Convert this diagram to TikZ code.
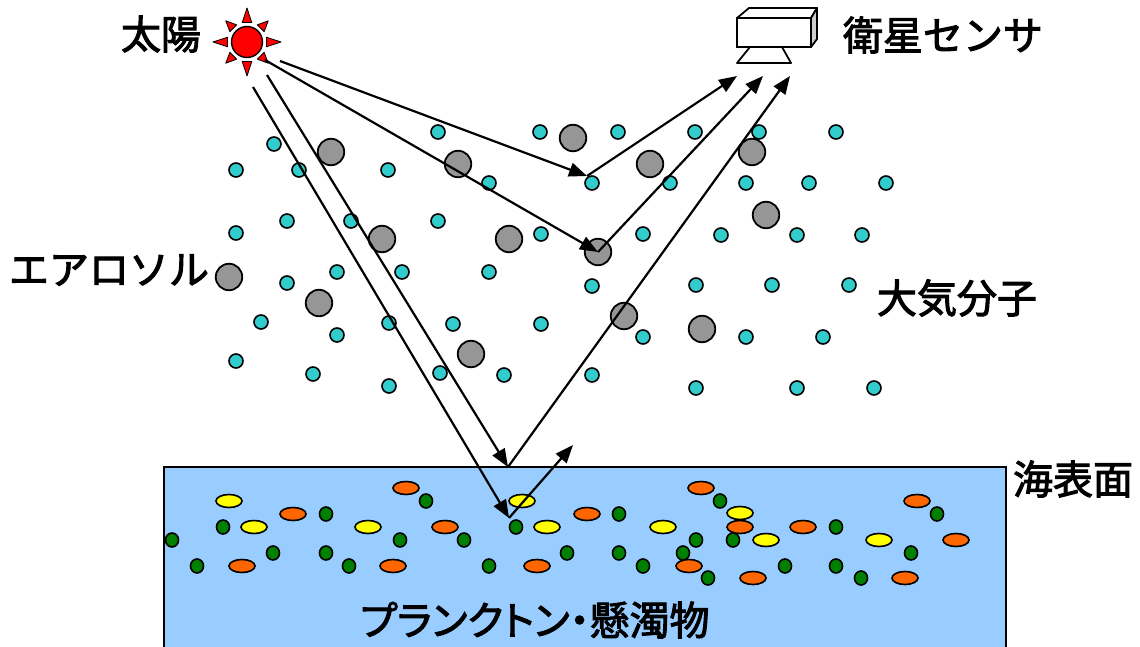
\documentclass[tikz,border=0pt]{standalone}
\usepackage{fontspec}
\setmainfont{Noto Sans CJK JP}
\usepackage{tikz}
\usetikzlibrary{arrows.meta, shapes.geometric}
\usepackage{xcolor}
\definecolor{suncolor}{RGB}{255,0,0}
\definecolor{moleculecolor}{RGB}{51,204,204}
\definecolor{aerosolcolor}{RGB}{150,150,150}
\definecolor{seacolor}{RGB}{153,204,255}
\definecolor{greencolor}{RGB}{0,128,0}
\definecolor{orangecolor}{RGB}{255,102,0}
\definecolor{yellowcolor}{RGB}{255,255,0}
\definecolor{sidecolor}{RGB}{205,205,205}

\begin{document}
\begin{tikzpicture}[x=1pt, y=-1pt]
  \tikzset{
    molecule/.style={
      circle,
      draw,
      line width=1.6pt,
      fill=moleculecolor,
      minimum size=14pt,
      inner sep=0pt
    },
    aerosol/.style={
      circle,
      draw,
      line width=1.8pt,
      fill=aerosolcolor,
      minimum size=26.5pt,
      inner sep=0pt
    },
    greencell/.style={
      ellipse,
      draw,
      line width=1.6pt,
      fill=greencolor,
      minimum width=13pt,
      minimum height=14pt,
      inner sep=0pt
    },
    yellowcell/.style={
      ellipse,
      draw,
      line width=1.6pt,
      fill=yellowcolor,
      minimum width=26pt,
      minimum height=13pt,
      inner sep=0pt
    },
    orangecell/.style={
      ellipse,
      draw,
      line width=1.6pt,
      fill=orangecolor,
      minimum width=26pt,
      minimum height=13pt,
      inner sep=0pt
    },
    ray/.style={
      fill=suncolor,
      draw=black,
      line width=0.8pt,
      line join=round
    },
    beam/.style={
      line width=2.2pt,
      -{Triangle[length=18pt,width=14pt]}
    },
    jptext/.style={
      font=\fontsize{40}{44}\selectfont\addfontfeature{FakeBold=2.5},
      inner sep=0pt
    }
  }
  \useasboundingbox (0,0) rectangle (1140,647);

  % Sea surface
  \fill[seacolor] (164,467) rectangle (1006,647);
  \draw[line width=1.8pt] (164,647) -- (164,467) -- (1006,467) -- (1006,647);

  % Sun
  \begin{scope}[shift={(247,42)}]
    \filldraw[ray] (-14:20) -- (0:34) -- (14:20) -- cycle;
    \filldraw[ray] (31:20) -- (45:30) -- (59:20) -- cycle;
    \filldraw[ray] (76:20) -- (90:34) -- (104:20) -- cycle;
    \filldraw[ray] (121:20) -- (135:30) -- (149:20) -- cycle;
    \filldraw[ray] (166:20) -- (180:34) -- (194:20) -- cycle;
    \filldraw[ray] (211:20) -- (225:30) -- (239:20) -- cycle;
    \filldraw[ray] (256:20) -- (270:34) -- (284:20) -- cycle;
    \filldraw[ray] (301:20) -- (315:30) -- (329:20) -- cycle;
  \end{scope}
  \node[circle, draw, line width=1.4pt, fill=suncolor, minimum size=31pt, inner sep=0pt] (sun) at (247,42) {};

  % Satellite sensor
  \filldraw[fill=white, line width=1.8pt, line join=round] (750,47) -- (782,47) -- (791,63) -- (737,63) -- cycle;
  \filldraw[fill=white, line width=1.8pt, line join=round] (737,18) -- (749,8) -- (817,8) -- (811,18) -- cycle;
  \filldraw[fill=sidecolor, line width=1.8pt, line join=round] (811,18) -- (817,8) -- (817,39) -- (811,47) -- cycle;
  \filldraw[fill=white, line width=1.8pt] (737,18) rectangle (811,47);

  % Air molecules
  \node[molecule] (mol1) at (438,132) {};
  \node[molecule] (mol2) at (540,132) {};
  \node[molecule] (mol3) at (618,132) {};
  \node[molecule] (mol4) at (695,132) {};
  \node[molecule] (mol5) at (759,132) {};
  \node[molecule] (mol6) at (836,132) {};
  \node[molecule] (mol7) at (274,144) {};
  \node[molecule] (mol8) at (236,170) {};
  \node[molecule] (mol9) at (299,170) {};
  \node[molecule] (mol10) at (388,170) {};
  \node[molecule] (mol11) at (489,183) {};
  \node[molecule] (mol12) at (592,183) {};
  \node[molecule] (mol13) at (670,183) {};
  \node[molecule] (mol14) at (746,183) {};
  \node[molecule] (mol15) at (809,183) {};
  \node[molecule] (mol16) at (886,183) {};
  \node[molecule] (mol17) at (287,221) {};
  \node[molecule] (mol18) at (351,221) {};
  \node[molecule] (mol19) at (438,221) {};
  \node[molecule] (mol20) at (236,233) {};
  \node[molecule] (mol21) at (541,234) {};
  \node[molecule] (mol22) at (643,234) {};
  \node[molecule] (mol23) at (721,235) {};
  \node[molecule] (mol24) at (797,235) {};
  \node[molecule] (mol25) at (862,235) {};
  \node[molecule] (mol26) at (337,272) {};
  \node[molecule] (mol27) at (402,272) {};
  \node[molecule] (mol28) at (489,272) {};
  \node[molecule] (mol29) at (287,283) {};
  \node[molecule] (mol30) at (592,286) {};
  \node[molecule] (mol31) at (696,285) {};
  \node[molecule] (mol32) at (772,285) {};
  \node[molecule] (mol33) at (849,285) {};
  \node[molecule] (mol34) at (261,322) {};
  \node[molecule] (mol35) at (389,323) {};
  \node[molecule] (mol36) at (453,324) {};
  \node[molecule] (mol37) at (541,324) {};
  \node[molecule] (mol38) at (337,335) {};
  \node[molecule] (mol39) at (643,337) {};
  \node[molecule] (mol40) at (746,337) {};
  \node[molecule] (mol41) at (823,337) {};
  \node[molecule] (mol42) at (236,361) {};
  \node[molecule] (mol43) at (313,374) {};
  \node[molecule] (mol44) at (440,373) {};
  \node[molecule] (mol45) at (504,375) {};
  \node[molecule] (mol46) at (592,375) {};
  \node[molecule] (mol47) at (389,386) {};
  \node[molecule] (mol48) at (696,388) {};
  \node[molecule] (mol49) at (797,388) {};
  \node[molecule] (mol50) at (874,388) {};

  % Aerosols
  \node[aerosol] (aer1) at (573,138) {};
  \node[aerosol] (aer2) at (331,152) {};
  \node[aerosol] (aer3) at (458,164) {};
  \node[aerosol] (aer4) at (650,164) {};
  \node[aerosol] (aer5) at (752,152) {};
  \node[aerosol] (aer6) at (766,215) {};
  \node[aerosol] (aer7) at (382,239) {};
  \node[aerosol] (aer8) at (509,239) {};
  \node[aerosol] (aer9) at (598,252) {};
  \node[aerosol] (aer10) at (229,277) {};
  \node[aerosol] (aer11) at (319,303) {};
  \node[aerosol] (aer12) at (624,316) {};
  \node[aerosol] (aer13) at (702,329) {};
  \node[aerosol] (aer14) at (471,354) {};

  % Plankton and suspended matter
  \node[greencell] (grn1) at (426,501) {};
  \node[greencell] (grn2) at (326,514) {};
  \node[greencell] (grn3) at (223,527) {};
  \node[greencell] (grn4) at (172,540) {};
  \node[greencell] (grn5) at (400,540) {};
  \node[greencell] (grn6) at (464,540) {};
  \node[greencell] (grn7) at (273,553) {};
  \node[greencell] (grn8) at (326,553) {};
  \node[greencell] (grn9) at (197,566) {};
  \node[greencell] (grn10) at (349,566) {};
  \node[greencell] (grn11) at (516,527) {};
  \node[greencell] (grn12) at (489,566) {};
  \node[greencell] (grn13) at (720,501) {};
  \node[greencell] (grn14) at (619,514) {};
  \node[greencell] (grn15) at (937,514) {};
  \node[greencell] (grn16) at (836,527) {};
  \node[greencell] (grn17) at (696,540) {};
  \node[greencell] (grn18) at (733,540) {};
  \node[greencell] (grn19) at (567,553) {};
  \node[greencell] (grn20) at (619,553) {};
  \node[greencell] (grn21) at (683,553) {};
  \node[greencell] (grn22) at (911,553) {};
  \node[greencell] (grn23) at (643,566) {};
  \node[greencell] (grn24) at (785,566) {};
  \node[greencell] (grn25) at (836,566) {};
  \node[greencell] (grn26) at (708,578) {};
  \node[greencell] (grn27) at (861,578) {};

  \node[yellowcell] (ylw1) at (229,501) {};
  \node[yellowcell] (ylw2) at (254,527) {};
  \node[yellowcell] (ylw3) at (368,527) {};
  \node[yellowcell] (ylw4) at (522,501) {};
  \node[yellowcell] (ylw5) at (547,527) {};
  \node[yellowcell] (ylw6) at (663,527) {};
  \node[yellowcell] (ylw7) at (740,513) {};
  \node[yellowcell] (ylw8) at (766,540) {};
  \node[yellowcell] (ylw9) at (879,540) {};

  \node[orangecell] (org1) at (406,488) {};
  \node[orangecell] (org2) at (293,514) {};
  \node[orangecell] (org3) at (445,527) {};
  \node[orangecell] (org4) at (242,566) {};
  \node[orangecell] (org5) at (393,566) {};
  \node[orangecell] (org6) at (537,566) {};
  \node[orangecell] (org7) at (701,488) {};
  \node[orangecell] (org8) at (917,501) {};
  \node[orangecell] (org9) at (587,514) {};
  \node[orangecell] (org10) at (740,527) {};
  \node[orangecell] (org11) at (803,527) {};
  \node[orangecell] (org12) at (956,540) {};
  \node[orangecell] (org13) at (689,566) {};
  \node[orangecell] (org14) at (753,578) {};
  \node[orangecell] (org15) at (905,578) {};

  % Labels
  \node[jptext] (sunlabel) at (161,34) {太陽};
  \node[jptext] (sensorlabel) at (943,35) {衛星センサ};
  \node[jptext] (aerosollabel) at (109,270) {エアロソル};
  \node[jptext] (airlabel) at (957,298) {大気分子};
  \node[jptext] (sealabel) at (1073,479) {海表面};
  \node[jptext] (planktonlabel) at (535,620) {\addfontfeature{RawFeature=+palt}プランクトン・懸濁物};

  % Light paths
  \coordinate (src1) at (280,61);
  \coordinate (src2) at (265,60);
  \coordinate (src3) at (267,75);
  \coordinate (src4) at (253,87);
  \coordinate (hit1) at (587,176);
  \coordinate (hit2) at (598,252);
  \coordinate (surf) at (508,467);
  \coordinate (deep) at (509,518);
  \coordinate (exit) at (573,445);
  \coordinate (recv1) at (737,76);
  \coordinate (recv2) at (763,76);
  \coordinate (recv3) at (790,76);

  \draw[beam] (src1) -- (hit1);
  \draw[beam] (hit1) -- (recv1);
  \draw[beam] (src2) -- (hit2);
  \draw[beam] (hit2) -- (recv2);
  \draw[beam] (src3) -- (surf);
  \draw[beam] (surf) -- (recv3);
  \draw[beam] (src4) -- (deep);
  \draw[beam] (deep) -- (exit);

\end{tikzpicture}
\end{document}
